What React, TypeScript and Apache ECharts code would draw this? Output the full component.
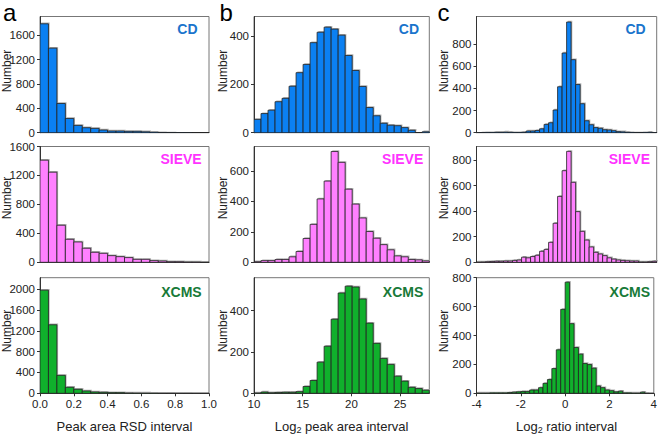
import React, { useEffect, useRef } from "react";
import * as echarts from "echarts";

// ---- data (histogram counts per bin) ----
const methods = ["CD", "SIEVE", "XCMS"];

// panel a: Peak area RSD interval, 0..1, 20 bins
const rsdRange = [0, 1];
const rsdCD = [1790, 1390, 480, 234, 120, 82, 71, 44, 27, 27, 22, 22, 16, 10, 5, 3, 2, 2, 1, 1];
const rsdSIEVE = [1411, 1245, 512, 318, 281, 194, 138, 124, 92, 78, 65, 41, 41, 23, 18, 9, 9, 5, 5, 2];
const rsdXCMS = [1981, 1316, 345, 115, 77, 45, 26, 19, 13, 13, 8, 6, 5, 4, 3, 3, 2, 2, 1, 1];

// panel b: Log2 peak area interval, 10..28, 25 bins
const areaRange = [10, 28];
const areaCD = [55, 79, 93, 128, 142, 192, 248, 282, 372, 415, 436, 428, 403, 319, 257, 191, 104, 70, 39, 31, 29, 21, 10, 0, 4];
const areaSIEVE = [4, 11, 11, 18, 18, 36, 71, 156, 249, 416, 533, 727, 656, 480, 382, 291, 202, 158, 116, 82, 42, 36, 18, 16, 9];
const areaXCMS = [2, 6, 3, 4, 5, 5, 8, 33, 62, 151, 228, 359, 486, 519, 515, 457, 340, 242, 169, 140, 83, 59, 29, 23, 15];

// panel c: Log2 ratio interval, -4..4, 40 bins
const ratioRange = [-4, 4];
const ratioCD = [1, 2, 3, 3, 5, 5, 6, 5, 3, 3, 5, 15, 15, 20, 35, 75, 90, 205, 415, 720, 1000, 660, 435, 262, 108, 72, 46, 40, 27, 25, 18, 10, 8, 5, 3, 2, 2, 3, 5, 1];
const ratioSIEVE = [2, 3, 5, 6, 8, 8, 10, 10, 15, 18, 40, 35, 45, 55, 86, 101, 156, 305, 515, 716, 867, 625, 396, 242, 174, 120, 78, 65, 52, 35, 25, 18, 15, 12, 10, 10, 3, 3, 5, 8];
const ratioXCMS = [2, 2, 2, 3, 3, 3, 3, 5, 8, 10, 12, 12, 23, 23, 39, 69, 95, 171, 301, 581, 769, 482, 317, 271, 206, 199, 174, 51, 39, 23, 18, 10, 15, 3, 3, 2, 2, 8, 1, 0];

// y-axis extents and tick labels
const yMaxA = [1910, 1600, 2220];
const yMaxB = [480, 760, 560];
const yMaxC = [1050, 905, 800];
const yTicksA = [[0, 400, 800, 1200, 1600], [0, 400, 800, 1200, 1600], [0, 400, 800, 1200, 1600, 2000]];
const yTicksB = [[0, 200, 400], [0, 200, 400, 600], [0, 200, 400]];
const yTicksC = [[0, 200, 400, 600, 800], [0, 200, 400, 600, 800], [0, 200, 400, 600, 800]];

// x-axis tick labels
const xTicksA = [0, 0.2, 0.4, 0.6, 0.8, 1.0];
const xTicksB = [10, 15, 20, 25];
const xTicksC = [-4, -2, 0, 2, 4];

const FONT = "'Liberation Sans', Arial, sans-serif";
const barColors = ["#0b80f2", "#ff80ff", "#10b02c"];
const labelColors = ["#1a74cc", "#ff33ff", "#187a38"];

const rows = [
  { top: 16.5, bottom: 132.7 },
  { top: 146.5, bottom: 262.3 },
  { top: 277.7, bottom: 393.3 },
];
const cols = [
  { left: 40, right: 209 },
  { left: 254, right: 429.3 },
  { left: 476.5, right: 656.7 },
];

function bins(range: number[], counts: number[]) {
  const w = (range[1] - range[0]) / counts.length;
  return counts.map((c, i) => [range[0] + i * w, range[0] + (i + 1) * w, c]);
}

export default function App() {
  const ref = useRef<HTMLDivElement>(null);
  useEffect(() => {
    if (!ref.current) return;
    const chart = echarts.init(ref.current, null, { renderer: "svg" });

    const columns = [
      { range: rsdRange, data: [rsdCD, rsdSIEVE, rsdXCMS], yMax: yMaxA, yTicks: yTicksA, xTicks: xTicksA, fmt: (v: number) => v.toFixed(1) },
      { range: areaRange, data: [areaCD, areaSIEVE, areaXCMS], yMax: yMaxB, yTicks: yTicksB, xTicks: xTicksB, fmt: (v: number) => String(v) },
      { range: ratioRange, data: [ratioCD, ratioSIEVE, ratioXCMS], yMax: yMaxC, yTicks: yTicksC, xTicks: xTicksC, fmt: (v: number) => String(v) },
    ];

    const grids: any[] = [];
    const xAxes: any[] = [];
    const yAxes: any[] = [];
    const series: any[] = [];
    const graphics: any[] = [];

    columns.forEach((col, ci) => {
      rows.forEach((row, ri) => {
        const idx = grids.length;
        const c = cols[ci];
        grids.push({
          left: c.left,
          top: row.top,
          width: c.right - c.left,
          height: row.bottom - row.top,
          show: true,
          borderColor: "#777",
          borderWidth: 1,
          backgroundColor: "transparent",
        });
        const isBottom = ri === 2;
        xAxes.push({
          type: "value",
          gridIndex: idx,
          min: col.range[0],
          max: col.range[1],
          splitLine: { show: false },
          axisLine: { show: true, onZero: false, lineStyle: { color: "#333", width: 1 } },
          axisTick: { show: isBottom, length: 3, customValues: col.xTicks, lineStyle: { color: "#333" } },
          axisLabel: {
            show: isBottom,
            customValues: col.xTicks,
            formatter: (v: number) => col.fmt(v),
            margin: 5,
            fontSize: 11.5,
            color: "#222",
            fontFamily: FONT,
          },
        });
        yAxes.push({
          type: "value",
          gridIndex: idx,
          min: 0,
          max: col.yMax[ri],
          splitLine: { show: false },
          axisLine: { show: true, onZero: false, lineStyle: { color: "#333", width: 1 } },
          axisTick: { show: true, length: 3, customValues: col.yTicks[ri], lineStyle: { color: "#333" } },
          axisLabel: {
            customValues: col.yTicks[ri],
            formatter: (v: number) => String(v),
            margin: 5,
            fontSize: 11.5,
            color: "#222",
            fontFamily: FONT,
          },
        });
        const fill = barColors[ri];
        series.push({
          type: "custom",
          name: methods[ri],
          xAxisIndex: idx,
          yAxisIndex: idx,
          data: bins(col.range, col.data[ri]),
          encode: { x: [0, 1], y: 2 },
          clip: true,
          renderItem: (params: any, api: any) => {
            const p0 = api.coord([api.value(0), api.value(2)]);
            const p1 = api.coord([api.value(1), 0]);
            const w = p1[0] - p0[0];
            const h = p1[1] - p0[1];
            return {
              type: "group",
              children: [
                {
                  type: "rect",
                  shape: { x: p0[0] + 1.2, y: p0[1] - 1.2, width: w, height: h },
                  style: { fill: "#b0b0b0" },
                },
                {
                  type: "rect",
                  shape: { x: p0[0], y: p0[1], width: w, height: h },
                  style: { fill, stroke: "#222", lineWidth: 0.8 },
                },
              ],
            };
          },
        });

        // method label
        const labelRight = [
          [197.5, 201.7, 201.7],
          [419, 423.3, 423.3],
          [645.7, 650, 650],
        ][ci][ri];
        const labelY = [29, 158.5, 291.7][ri];
        graphics.push({
          type: "text",
          x: labelRight,
          y: labelY,
          style: {
            text: methods[ri],
            fill: labelColors[ri],
            font: `bold 14px ${FONT}`,
            align: "right",
            verticalAlign: "middle",
          },
        });
        // "Number" y-axis title
        const numX = [6.5, 223, 444][ci];
        const numY = [71, 198, 331][ri];
        graphics.push({
          type: "text",
          x: numX,
          y: numY,
          rotation: Math.PI / 2,
          style: {
            text: "Number",
            fill: "#222",
            font: `12px ${FONT}`,
            align: "center",
            verticalAlign: "middle",
          },
        });
      });
    });

    // panel letters
    [["a", 3], ["b", 219.5], ["c", 437.5]].forEach(([t, x]) => {
      graphics.push({
        type: "text",
        x: x as number,
        y: 12,
        style: { text: t as string, fill: "#000", font: `24px ${FONT}`, align: "left", verticalAlign: "middle" },
      });
    });

    // x-axis titles
    const rich = {
      a: { fontSize: 13, fontFamily: FONT, fill: "#222", lineHeight: 16 },
      s: { fontSize: 9, fontFamily: FONT, fill: "#222", lineHeight: 7, verticalAlign: "bottom" },
    };
    graphics.push({
      type: "text",
      x: 124.5,
      y: 426.5,
      style: { text: "{a|Peak area RSD interval}", rich, align: "center", verticalAlign: "middle" },
    });
    graphics.push({
      type: "text",
      x: 341.5,
      y: 426.5,
      style: { text: "{a|Log}{s|2}{a| peak area interval}", rich, align: "center", verticalAlign: "middle" },
    });
    graphics.push({
      type: "text",
      x: 566.5,
      y: 426.5,
      style: { text: "{a|Log}{s|2}{a| ratio interval}", rich, align: "center", verticalAlign: "middle" },
    });

    chart.setOption({
      animation: false,
      backgroundColor: "#fff",
      textStyle: { fontFamily: FONT },
      grid: grids,
      xAxis: xAxes,
      yAxis: yAxes,
      series,
      graphic: graphics,
    });
    return () => chart.dispose();
  }, []);

  return (
    <div
      ref={ref}
      style={{ position: "fixed", left: 0, top: 0, width: 660, height: 435 }}
    />
  );
}
